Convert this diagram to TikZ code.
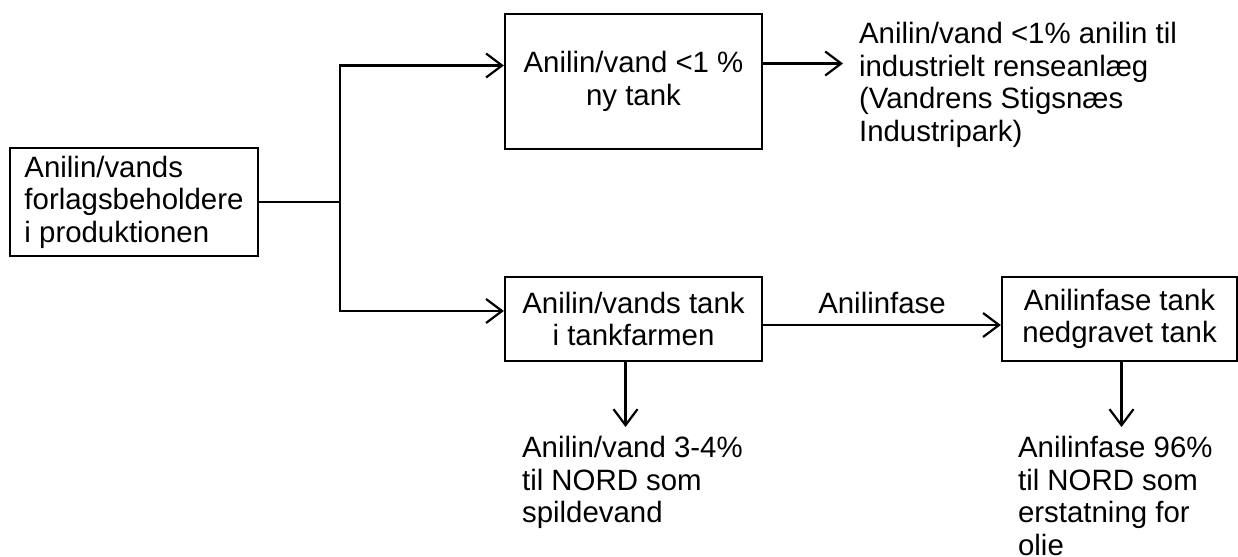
\documentclass[tikz,border=0pt]{standalone}
\usepackage{fontspec}
\setmainfont{Liberation Sans}
\usepackage{tikz}
\usetikzlibrary{arrows.meta, calc}

\begin{document}
\begin{tikzpicture}[x=0.5pt, y=-0.5pt, >={Straight Barb[length=8pt, width=12pt]}, line width=1.1pt,
    font=\fontsize{14.7}{16.3}\selectfont,
    box/.style={draw, inner sep=0pt, align=center},
    txt/.style={inner sep=0pt, align=left}]
    \useasboundingbox (0,0) rectangle (1238,557);
    \node[box, align=left, minimum width=124pt, minimum height=54pt] (src) at (134,202) {Anilin/vands\\forlagsbeholdere\\i produktionen};
    \node[box, minimum width=128.5pt, minimum height=67.5pt] (tnew) at (633.5,81.5) {Anilin/vand <1 \%\\ny tank};
    \node[box, minimum width=128.5pt, minimum height=42pt] (tfarm) at (633.5,319) {Anilin/vands tank\\i tankfarmen};
    \node[box, minimum width=117.5pt, minimum height=42pt] (tgrav) at (1119.5,319) {Anilinfase tank\\nedgravet tank};
    \node[txt, anchor=north west] (clean) at (858,21) {Anilin/vand <1\% anilin til\\industrielt renseanlæg\\(Vandrens Stigsnæs\\Industripark)};
    \node[txt, anchor=north west] (waste) at (521,435) {Anilin/vand 3-4\%\\til NORD som\\spildevand};
    \node[txt, anchor=north west] (oil) at (1017,435) {Anilinfase 96\%\\til NORD som\\erstatning for\\olie};
    \coordinate (split) at (340,202);
    \draw (src) -- (split);
    \draw[->] (split) |- ($(tnew.west)+(0,-16)$);
    \draw[->] (split) |- ($(tfarm.west)+(0,-8)$);
    \draw[->] ($(tnew.east)+(0,-18)$) -- ($(tnew.east -| clean.west)+(-15,-18)$);
    \draw[->] ($(tfarm.east)+(0,6)$) -- ($(tgrav.west)+(0,6)$) node[midway, above=5pt, inner sep=0pt] {Anilinfase};
    \draw[->] ($(tfarm.south)+(-8,0)$) -- ($(tfarm.south |- waste.north)+(-8,-8)$);
    \draw[->] ($(tgrav.south)+(2,0)$) -- ($(tgrav.south |- oil.north)+(2,-8)$);
\end{tikzpicture}
\end{document}
